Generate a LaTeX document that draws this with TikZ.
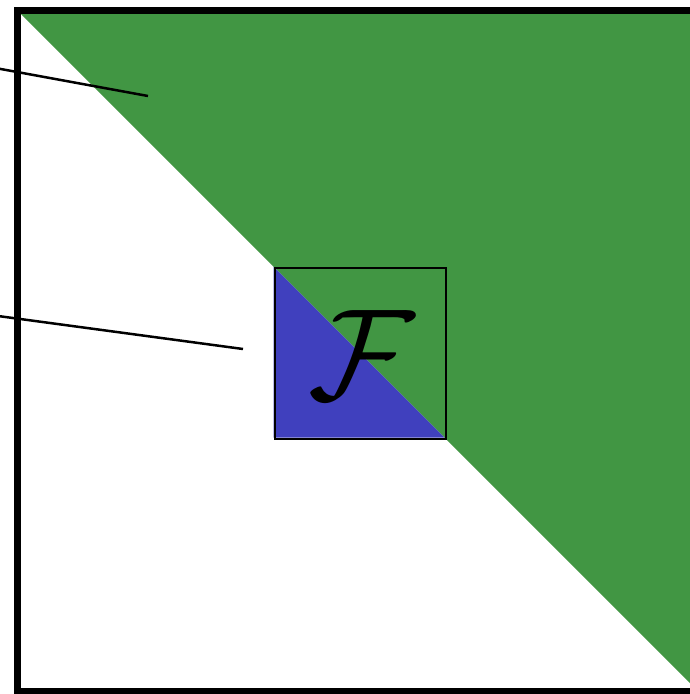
\documentclass[tikz,border=0pt]{standalone}
\definecolor{fgreen}{RGB}{65,150,67}
\definecolor{fblue}{RGB}{64,64,190}
\begin{document}
\begin{tikzpicture}[x=1pt,y=-1pt,
  frame/.style={line width=7pt,draw=black},
  leader/.style={line width=2.5pt,draw=black}]
\useasboundingbox (0,0) rectangle (690,694);
\begin{scope}
\clip (0,0) rectangle (690,694);
% green upper-right triangle
\fill[fgreen] (17.5,10.5) -- (698,10.5) -- (698,691) -- cycle;
% small square with blue lower-left half
\fill[fblue] (273.5,266.5) -- (273.5,437.5) -- (444.5,437.5) -- cycle;
\node[draw=black,line width=2pt,minimum size=171pt,inner sep=0pt,anchor=north west] (sq) at (273.5,266.5) {};
\node[scale=13,inner sep=0pt] (F) at (362,355) {$\mathcal{F}$};
% frame
\draw[frame] (17.5,10.5) rectangle (698,691);
% leader lines
\coordinate (a1) at (-2,68.5);
\coordinate (a2) at (148,96);
\coordinate (b1) at (-2,316);
\coordinate (b2) at (243,349);
\draw[leader] (a1) -- (a2);
\draw[leader] (b1) -- (b2);
\end{scope}
\end{tikzpicture}
\end{document}
